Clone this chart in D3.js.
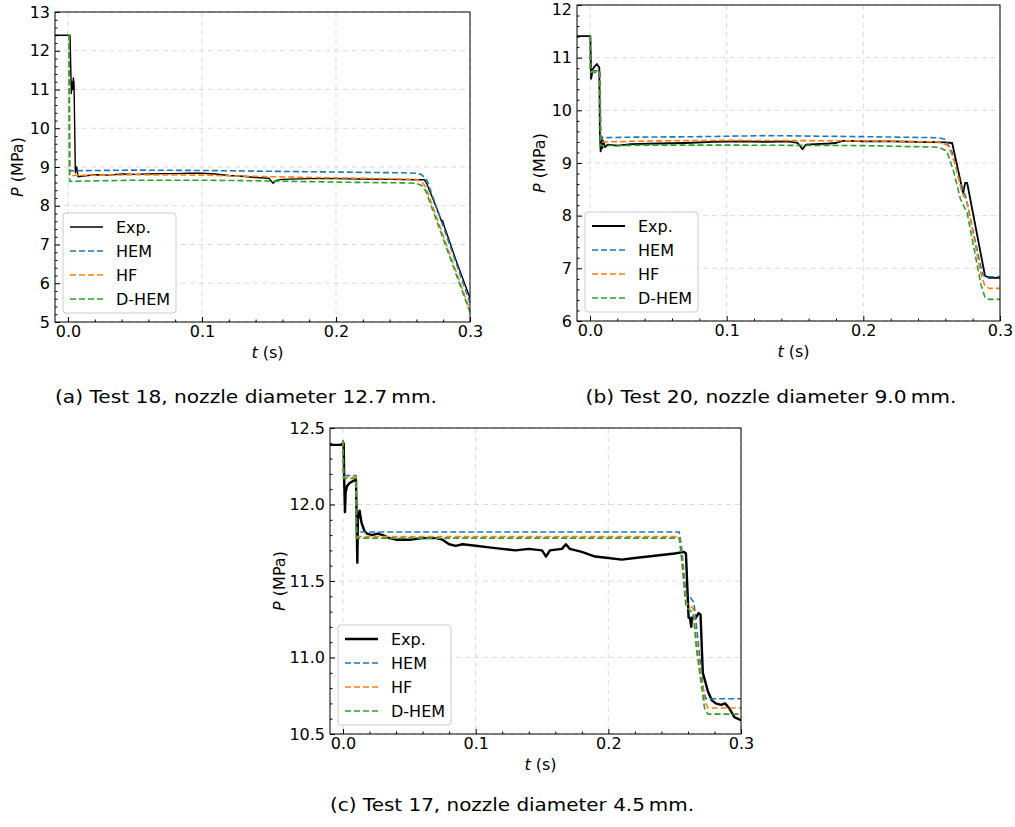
<!DOCTYPE html>
<html>
<head>
<meta charset="utf-8">
<script src="https://cdn.jsdelivr.net/npm/d3@7/dist/d3.min.js"></script>
<style>
  html, body { margin: 0; padding: 0; background: #fff; }
  svg { display: block; font-family: "DejaVu Sans", sans-serif; }
</style>
</head>
<body>
<svg id="fig" width="1015" height="827"></svg>
<script>
// ---------- data: pressure P (MPa) against time t (s) ----------
const seriesNames = ["Exp.", "HEM", "HF", "D-HEM"];
const xTickValues = [0, 0.1, 0.2, 0.3];
const xTickLabels = ["0.0", "0.1", "0.2", "0.3"];

// Test 18, nozzle 12.7 mm
const t18Exp = [[-0.0097,12.4],[0.0015,12.4],[0.0025,10.9],[0.003,11.2],[0.0035,11.0],[0.004,11.3],[0.0045,11.15],[0.0055,8.85],[0.0065,9.0],[0.0075,8.75],[0.01,8.76],[0.015,8.78],[0.02,8.8],[0.03,8.79],[0.04,8.82],[0.05,8.81],[0.06,8.82],[0.07,8.83],[0.08,8.83],[0.09,8.84],[0.1,8.84],[0.11,8.82],[0.12,8.78],[0.13,8.76],[0.14,8.73],[0.15,8.71],[0.153,8.58],[0.156,8.66],[0.16,8.68],[0.18,8.7],[0.2,8.7],[0.22,8.69],[0.24,8.68],[0.26,8.67],[0.266,8.67],[0.268,8.55],[0.275,7.95],[0.279,7.58],[0.2795,7.62],[0.281,7.45],[0.29,6.55],[0.3,5.62]];
const t18HEM = [[0,12.4],[0.0008,12.4],[0.0012,8.9],[0.02,8.91],[0.05,8.92],[0.1,8.91],[0.15,8.89],[0.2,8.87],[0.25,8.85],[0.26,8.84],[0.264,8.8],[0.268,8.65],[0.3,5.5]];
const t18HF = [[0,12.4],[0.0008,12.4],[0.0012,8.78],[0.05,8.8],[0.1,8.79],[0.15,8.75],[0.2,8.72],[0.25,8.69],[0.26,8.68],[0.264,8.62],[0.267,8.48],[0.3,5.3]];
const t18DHEM = [[0,12.4],[0.0008,12.4],[0.0012,8.63],[0.05,8.66],[0.1,8.66],[0.15,8.64],[0.2,8.61],[0.25,8.59],[0.26,8.58],[0.264,8.52],[0.267,8.38],[0.3,5.25]];
const t18YTicks = [5, 6, 7, 8, 9, 10, 11, 12, 13];

// Test 20, nozzle 9.0 mm
const t20Exp = [[-0.0095,11.41],[0.0003,11.41],[0.0008,10.6],[0.0012,10.65],[0.002,10.78],[0.003,10.82],[0.004,10.85],[0.005,10.88],[0.006,10.84],[0.0068,10.82],[0.0072,9.6],[0.0078,9.22],[0.0085,9.5],[0.009,9.28],[0.0098,9.42],[0.011,9.3],[0.013,9.35],[0.02,9.33],[0.03,9.36],[0.05,9.37],[0.07,9.38],[0.09,9.4],[0.11,9.41],[0.13,9.4],[0.145,9.41],[0.152,9.38],[0.1555,9.26],[0.158,9.35],[0.165,9.36],[0.175,9.37],[0.18,9.38],[0.185,9.42],[0.19,9.42],[0.2,9.41],[0.22,9.41],[0.24,9.4],[0.26,9.39],[0.265,9.38],[0.273,8.43],[0.2745,8.62],[0.276,8.62],[0.289,6.86],[0.292,6.82],[0.3,6.82]];
const t20HEM = [[0,11.41],[0.0003,10.75],[0.0073,10.75],[0.0078,9.48],[0.03,9.49],[0.08,9.5],[0.13,9.52],[0.2,9.5],[0.255,9.48],[0.26,9.45],[0.265,9.2],[0.27,8.7],[0.275,8.35],[0.287,6.9],[0.289,6.84],[0.3,6.84]];
const t20HF = [[0,11.41],[0.0003,10.73],[0.0073,10.73],[0.0078,9.4],[0.05,9.42],[0.1,9.43],[0.2,9.42],[0.255,9.4],[0.262,9.33],[0.267,9.0],[0.272,8.45],[0.276,8.25],[0.286,6.9],[0.289,6.66],[0.292,6.62],[0.3,6.62]];
const t20DHEM = [[0,11.41],[0.0003,10.72],[0.0073,10.72],[0.0078,9.33],[0.05,9.34],[0.1,9.34],[0.2,9.33],[0.255,9.3],[0.261,9.23],[0.266,8.85],[0.271,8.32],[0.276,8.05],[0.286,6.7],[0.289,6.45],[0.292,6.41],[0.3,6.41]];
const t20YTicks = [6, 7, 8, 9, 10, 11, 12];

// Test 17, nozzle 4.5 mm
const t17Exp = [[-0.0098,12.39],[-0.002,12.39],[0.0005,12.4],[0.001,12.12],[0.0015,11.95],[0.002,12.08],[0.003,12.12],[0.005,12.14],[0.007,12.15],[0.009,12.16],[0.0098,12.16],[0.0102,11.95],[0.0108,11.62],[0.0112,11.9],[0.0125,11.96],[0.014,11.88],[0.016,11.83],[0.018,11.81],[0.022,11.8],[0.026,11.81],[0.03,11.8],[0.035,11.78],[0.04,11.77],[0.05,11.77],[0.06,11.78],[0.07,11.78],[0.075,11.77],[0.08,11.74],[0.085,11.73],[0.09,11.74],[0.1,11.73],[0.11,11.72],[0.12,11.71],[0.13,11.7],[0.14,11.71],[0.15,11.7],[0.153,11.66],[0.156,11.7],[0.165,11.71],[0.168,11.74],[0.171,11.71],[0.18,11.69],[0.19,11.66],[0.2,11.65],[0.21,11.64],[0.22,11.65],[0.23,11.66],[0.24,11.67],[0.25,11.68],[0.257,11.69],[0.2585,11.68],[0.2605,11.26],[0.2615,11.26],[0.2625,11.2],[0.263,11.26],[0.266,11.26],[0.268,11.29],[0.2695,11.28],[0.2712,10.9],[0.2725,10.86],[0.275,10.78],[0.278,10.72],[0.281,10.7],[0.285,10.69],[0.288,10.7],[0.291,10.67],[0.295,10.61],[0.3,10.59]];
const t17HEM = [[0,12.42],[0.0004,12.19],[0.0098,12.19],[0.0102,11.82],[0.1,11.82],[0.2,11.82],[0.2535,11.82],[0.2555,11.7],[0.2585,11.41],[0.262,11.39],[0.2645,11.36],[0.2665,11.2],[0.2715,10.8],[0.2735,10.73],[0.3,10.73]];
const t17HF = [[0,12.42],[0.0004,12.18],[0.0098,12.18],[0.0102,11.79],[0.1,11.79],[0.2,11.79],[0.2535,11.79],[0.2555,11.65],[0.2585,11.36],[0.264,11.32],[0.2665,11.1],[0.2725,10.72],[0.275,10.67],[0.3,10.67]];
const t17DHEM = [[0,12.42],[0.0004,12.17],[0.0098,12.17],[0.0102,11.78],[0.1,11.78],[0.2,11.78],[0.2535,11.78],[0.2555,11.62],[0.2585,11.33],[0.264,11.29],[0.2665,11.05],[0.2725,10.67],[0.275,10.63],[0.3,10.63]];
const t17YTicks = [10.5, 11.0, 11.5, 12.0, 12.5];

// ---------- styling ----------
const colors = { "Exp.": "#000000", "HEM": "#1f77b4", "HF": "#ff7f0e", "D-HEM": "#2ca02c" };
const FS = 16;

const svg = d3.select("#fig");

function drawPanel(cfg) {
  const { left, top, right, bottom } = cfg.box;
  const x = d3.scaleLinear().domain(cfg.xDomain).range([left, right]);
  const y = d3.scaleLinear().domain(cfg.yDomain).range([bottom, top]);
  const g = svg.append("g");

  // clip region for the curves
  const clipId = "clip-" + cfg.id;
  svg.append("clipPath").attr("id", clipId)
    .append("rect").attr("x", left).attr("y", top)
    .attr("width", right - left).attr("height", bottom - top);

  // dashed grid at the major ticks
  const grid = g.append("g").attr("stroke", "#dcdcdc").attr("stroke-width", 1)
    .attr("stroke-dasharray", "5,4");
  grid.selectAll("line.gx").data(xTickValues).join("line")
    .attr("x1", d => x(d)).attr("x2", d => x(d)).attr("y1", top).attr("y2", bottom);
  grid.selectAll("line.gy").data(cfg.yTicks).join("line")
    .attr("x1", left).attr("x2", right).attr("y1", d => y(d)).attr("y2", d => y(d));

  // curves: measured trace first, model predictions dashed over it
  const line = d3.line().x(d => x(d[0])).y(d => y(d[1]));
  const curves = g.append("g").attr("clip-path", `url(#${clipId})`).attr("fill", "none");
  seriesNames.forEach(name => {
    const p = curves.append("path").datum(cfg.series[name]).attr("d", line)
      .attr("stroke", colors[name]).attr("stroke-linejoin", "round");
    if (name === "Exp.") {
      p.attr("stroke-width", cfg.expWidth);
    } else {
      p.attr("stroke-width", 1.6).attr("stroke-dasharray", "6,3");
    }
  });

  // axes with inward ticks
  const xAxis = d3.axisBottom(x).tickValues(xTickValues)
    .tickFormat((d, i) => xTickLabels[i]).tickSize(-5).tickPadding(4);
  const xMinor = d3.axisBottom(x)
    .tickValues(d3.range(0.02, 0.3, 0.02).filter(v => Math.abs(v * 10 - Math.round(v * 10)) > 1e-6))
    .tickFormat("").tickSize(-2.5);
  const yAxis = d3.axisLeft(y).tickValues(cfg.yTicks)
    .tickFormat(cfg.yFormat).tickSize(-5).tickPadding(5);
  const yMinorVals = [];
  for (let v = cfg.yDomain[0]; v <= cfg.yDomain[1] + 1e-9; v += cfg.yMinorStep) {
    const r = Math.round(v * 1000) / 1000;
    if (!cfg.yTicks.some(t => Math.abs(t - r) < 1e-6)) yMinorVals.push(r);
  }
  const yMinor = d3.axisLeft(y).tickValues(yMinorVals).tickFormat("").tickSize(-2.5);

  [xAxis, xMinor].forEach(ax => {
    const a = g.append("g").attr("transform", `translate(0,${bottom})`).call(ax);
    a.select(".domain").remove();
    a.selectAll("text").attr("font-size", FS).attr("fill", "#000")
      .attr("font-family", "DejaVu Sans, sans-serif");
    a.selectAll("line").attr("stroke", "#000");
  });
  [yAxis, yMinor].forEach(ax => {
    const a = g.append("g").attr("transform", `translate(${left},0)`).call(ax);
    a.select(".domain").remove();
    a.selectAll("text").attr("font-size", FS).attr("fill", "#000")
      .attr("font-family", "DejaVu Sans, sans-serif")
      // keep a label that sits at the very top of the page inside it
      .attr("dy", d => (y(d) < 8 ? "0.62em" : "0.32em"));
    a.selectAll("line").attr("stroke", "#000");
  });

  // frame
  g.append("rect").attr("x", left).attr("y", top)
    .attr("width", right - left).attr("height", bottom - top)
    .attr("fill", "none").attr("stroke", "#000").attr("stroke-width", 1);

  // axis titles
  const xt = g.append("text").attr("x", (left + right) / 2 + 5).attr("y", cfg.xTitleY)
    .attr("text-anchor", "middle").attr("font-size", FS);
  xt.append("tspan").attr("font-style", "italic").text("t");
  xt.append("tspan").text(" (s)");
  const yt = g.append("text")
    .attr("transform", `translate(${cfg.yTitleX},${(top + bottom) / 2}) rotate(-90)`)
    .attr("text-anchor", "middle").attr("font-size", FS);
  yt.append("tspan").attr("font-style", "italic").text("P");
  yt.append("tspan").text(" (MPa)");

  // legend, lower left
  const lx = left + 8, lw = 113, lh = 100, ly = bottom - 9 - lh;
  const lg = g.append("g");
  lg.append("rect").attr("x", lx).attr("y", ly).attr("width", lw).attr("height", lh)
    .attr("rx", 3).attr("fill", "#fff").attr("fill-opacity", 0.8)
    .attr("stroke", "#cccccc").attr("stroke-width", 1);
  seriesNames.forEach((name, i) => {
    const cy = ly + 14 + i * 24;
    const s = lg.append("line").attr("x1", lx + 7).attr("x2", lx + 40)
      .attr("y1", cy).attr("y2", cy).attr("stroke", colors[name]);
    if (name === "Exp.") s.attr("stroke-width", cfg.expWidth);
    else s.attr("stroke-width", 1.6).attr("stroke-dasharray", "6,3");
    lg.append("text").attr("x", lx + 53).attr("y", cy + 6)
      .attr("font-size", FS).text(name);
  });

  // caption
  svg.append("text").attr("x", cfg.caption.x).attr("y", cfg.caption.y)
    .attr("text-anchor", "middle").attr("font-size", 18)
    .attr("font-family", "DejaVu Sans, sans-serif")
    .attr("textLength", cfg.caption.w).attr("lengthAdjust", "spacingAndGlyphs")
    .text(cfg.caption.text);
}

const fmt0 = d => d3.format("d")(d);
const fmt1 = d => d3.format(".1f")(d);

drawPanel({
  id: "a", box: { left: 55, top: 12, right: 470, bottom: 322 },
  xDomain: [-0.0097, 0.3], yDomain: [5, 13], yTicks: t18YTicks, yFormat: fmt0, yMinorStep: 0.2,
  series: { "Exp.": t18Exp, "HEM": t18HEM, "HF": t18HF, "D-HEM": t18DHEM },
  expWidth: 1.4, xTitleY: 358, yTitleX: 23,
  caption: { x: 246, y: 403, w: 382, text: "(a) Test 18, nozzle diameter 12.7\u2009mm." }
});
drawPanel({
  id: "b", box: { left: 577, top: 5, right: 1000, bottom: 321 },
  xDomain: [-0.0095, 0.3], yDomain: [6, 12], yTicks: t20YTicks, yFormat: fmt0, yMinorStep: 0.2,
  series: { "Exp.": t20Exp, "HEM": t20HEM, "HF": t20HF, "D-HEM": t20DHEM },
  expWidth: 1.8, xTitleY: 357, yTitleX: 545,
  caption: { x: 771, y: 403, w: 371, text: "(b) Test 20, nozzle diameter 9.0\u2009mm." }
});
drawPanel({
  id: "c", box: { left: 330, top: 428, right: 741, bottom: 734 },
  xDomain: [-0.0098, 0.3], yDomain: [10.5, 12.5], yTicks: t17YTicks, yFormat: fmt1, yMinorStep: 0.1,
  series: { "Exp.": t17Exp, "HEM": t17HEM, "HF": t17HF, "D-HEM": t17DHEM },
  expWidth: 2.4, xTitleY: 770, yTitleX: 285,
  caption: { x: 512, y: 811, w: 364, text: "(c) Test 17, nozzle diameter 4.5\u2009mm." }
});
</script>
</body>
</html>
